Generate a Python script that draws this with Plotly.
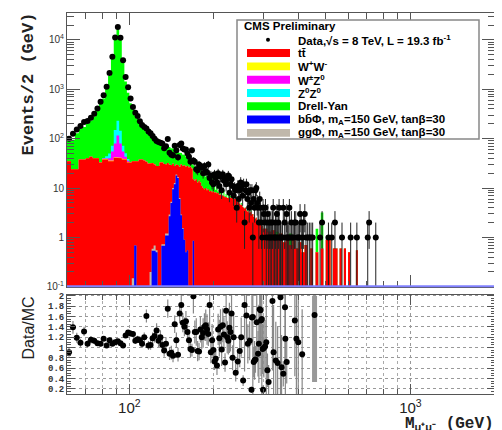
import numpy as np
import plotly.graph_objects as go

# page body adds an 8px margin; the figure is sized so that it fits the 502x430 window
OFF = 8
W, H = 502 - OFF, 430 - OFF
ML, MR, MT, MB = 67 - OFF, 7, 10 - OFF, 36

# ---------------- binning (2 GeV up to 300, 10 GeV above) ----------------
edges = np.concatenate([np.arange(60, 300, 2), np.arange(300, 701, 10)]).astype(float)
centers = 0.5 * (edges[:-1] + edges[1:])
nb = len(edges) - 1

# ---------------- MC stack (events / 2 GeV) ----------------
ttbar = [35, 24, 24, 38, 38, 40, 43, 40, 40, 33,
         38, 38, 35, 35, 41, 41, 40, 38, 38, 33,
         33, 35, 35, 35, 38, 38, 36, 34, 31, 31,
         32, 30, 28, 28, 33, 33, 31, 30, 32, 30,
         29, 31, 28, 30, 29, 27, 30, 28, 29, 27,
         28, 26, 27, 25, 15, 14, 15, 13, 14, 13,
         11, 10, 9.5, 10, 9, 9.5, 8.5, 8.8, 8.2, 8.5,
         8, 8.2, 7.8, 8, 7.2, 7.4, 7, 7.1, 6.8, 6.5,
         6.6, 6.3, 6.5, 6.4, 6.4, 6.2, 6.3, 6, 5.8, 6,
         5.5, 5.2, 5.4, 4.8, 4.5, 4.6, 4.2, 4, 3.8, 4,
         3.5, 3.3, 3.4, 3.1, 3.2, 3.3, 2.9, 3.0, 2.6, 2.8,
         2.4, 2.5, 2.2, 2.0, 2.3, 1.8, 1.9, 1.6, 1.7, 1.5,
         1.5, 1.3, 1.4, 1.0, 1.2, 0.8, 1.0, 0.7, 0.9, 0.6,
         0.8, 0.5, 0.7, 0, 0.6, 0, 0.5, 0, 0.6, 0,
         0.9, 0.9, 0, 0.6, 0.6, 0, 0.6, 0, 0.6, 0,
         0.5, 0, 0, 0, 0.55, 0, 0, 0, 0, 0]

drell_yan = [75, 71, 104, 122, 134, 165, 189, 240, 335, 482,
             609, 1016, 1810, 4148, 10050, 16169, 10055, 3648, 1389, 816,
             487, 355, 257, 217, 172, 134, 114, 104, 94, 84,
             72, 64, 58, 52, 45, 50, 46, 44, 40, 38,
             35, 32, 30, 28, 26, 25, 21, 20, 18, 17,
             15, 14, 13, 12, 14, 13.5, 11, 12, 10, 10,
             12, 8, 11, 7, 10, 5, 9, 4, 8, 3,
             4, 1, 3, 0.5, 2, 0.5, 1.5, 0, 2, 0.3,
             1, 0, 0.8, 0, 0.5, 0.3, 0, 0.6, 0, 0.4,
             0, 0.5, 0, 0.3, 0, 0.4, 0, 0, 0.3, 0,
             0, 0.4, 0, 0, 0, 0.3, 0, 0, 0, 0,
             0, 0, 0, 0.3, 0, 0, 0, 0, 0, 0,
             0, 0, 0, 0.3, 0, 0, 0, 0.5, 0, 0,
             0, 0, 0, 0, 0, 0, 1.0, 0, 2.6, 0,
             0, 0, 0, 0, 0, 0, 0, 0, 0, 0,
             0, 0, 0, 0, 0, 0, 0, 0, 0, 0]

# dibosons, bins 80-100 GeV
diboson_start = 80
ww_win = [0.8, 1.0, 1.1, 1.0, 1.2, 1.3, 1.1, 1.0, 0.9, 0.8]
wz_win = [1, 2, 4, 19, 38, 73, 39, 16, 4, 2]
zz_win = [1, 3, 10, 17, 70, 116, 65, 17, 8, 3]

# signals, bins 100-170 GeV
signal_start = 100
bbphi_win = [0, 0, 0.69, 0, 0, 0, 0, 0, 0, 0,
             0.54, 0.54, 0.5, 0, 0, 0.68, 0.68, 1.1, 1.1, 2.7,
             5.0, 9.5, 12, 18, 16, 6, 2.8, 1.5, 0.9, 0.5,
             0.55, 0, 0, 0, 0.86]
ggphi_win = [0, 0.15, 0, 0, 0, 0, 0, 0, 0, 0.2,
             0.05, 0.15, 0.05, 0, 0, 0.05, 0.05, 0.1, 0.1, 0.2,
             0.3, 0.5, 0.6, 0.8, 0.7, 0.3, 0.1, 0.05, 0, 0,
             0, 0, 0, 0, 0]

# ---------------- data ----------------
data_counts = [100, 126, 154, 180, 217, 227, 265, 318, 408, 560,
               760, 1120, 2130, 4540, 11200, 18300, 11000, 3880, 1770, 1100,
               650, 437, 335, 288, 225, 190, 172, 160, 140, 128,
               113, 100, 90, 86, 83, 80, 64, 70, 98, 52,
               47, 46, 72, 58, 42, 74, 80, 63, 60, 60,
               50, 43, 34, 58, 36, 34, 24, 23, 30, 28,
               26, 20, 28, 22, 21, 30, 16, 18, 13, 12,
               19, 16, 13, 20, 11, 17, 9, 19, 14, 16,
               12, 15, 18, 8, 12, 15, 11, 7, 10, 9,
               4, 11, 6, 9, 13, 10, 7, 12, 2, 9,
               12, 6, 8, 4, 9, 5, 9, 1, 6, 4,
               9, 10, 5, 4, 2, 6, 4, 2, 1, 4]
data_hi_mass = [301, 303, 305, 307, 309, 311, 313, 315, 317, 319,
                321, 323, 325, 327, 329, 331, 333, 335, 337, 339,
                341, 343, 345, 349, 351, 353, 357, 361, 363, 365,
                369, 371, 373, 377, 379, 383, 387, 391, 395, 399,
                403, 405, 409, 413, 417, 421, 425, 431, 437, 443,
                449, 477, 485, 511, 525, 539, 571, 613, 645, 705,
                713, 753]
data_hi_count = [3, 2, 4, 1, 2, 3, 1, 2, 1, 2,
                 1, 2, 4, 1, 1, 2, 1, 3, 1, 2,
                 4, 1, 1, 1, 1, 4, 2, 1, 3, 1,
                 1, 4, 1, 2, 1, 1, 2, 2, 1, 1,
                 1, 3, 2, 1, 2, 3, 1, 1, 1, 1,
                 1, 1, 2, 1, 1, 2, 1, 1, 1, 1,
                 2, 1]

# ---------------- Data/MC ratio as read ----------------
ratio_mass = [61, 63, 65, 67, 69, 71, 73, 75, 77, 79,
              81, 83, 85, 87, 89, 91, 93, 95, 97, 99,
              101, 103, 105, 107, 109, 111, 113, 115, 117, 119,
              121, 123, 125, 127, 129, 131, 133, 135, 137, 139,
              141, 143, 145, 147, 149, 151, 153, 155, 157, 159,
              161, 163, 165, 167, 169, 171, 173, 175, 177, 179,
              181, 183, 185, 187, 189, 191, 193, 195, 197, 199,
              201, 203, 205, 207, 209, 211, 213, 215, 217, 219,
              221, 223, 225, 227, 229, 231, 233, 235, 239, 243,
              247, 250, 254, 257, 261, 264, 268, 272, 273, 275,
              277, 279, 281, 284, 287, 289, 291, 293, 294, 296,
              298, 299, 301, 304, 307, 310, 313, 323, 326, 332,
              337, 345, 348, 353, 358, 359, 363, 388, 393, 399,
              412]
ratio_value = [0.91, 1.39, 1.19, 1.09, 1.31, 1.07, 1.15, 1.13, 1.08, 1.07,
               1.17, 1.04, 1.14, 1.07, 1.10, 1.12, 1.08, 1.04, 1.23, 1.29,
               1.27, 1.26, 1.13, 1.16, 1.14, 1.07, 1.20, 1.61, 1.04, 1.05,
               1.18, 1.22, 1.33, 1.13, 1.20, 1.05, 0.94, 1.07, 1.75, 0.88,
               0.90, 0.84, 1.45, 1.14, 0.86, 1.66, 1.82, 1.48, 1.40, 1.51,
               1.30, 1.14, 0.97, 0.95, 1.99, 1.30, 1.30, 0.93, 0.92, 1.35,
               1.20, 1.28, 1.40, 1.43, 1.35, 1.26, 1.82, 0.91, 1.14, 0.95,
               0.73, 0.78, 0.65, 1.35, 1.18, 1.40, 0.96, 1.43, 1.25, 0.71,
               1.71, 1.20, 1.13, 1.38, 1.30, 1.66, 0.80, 1.20, 0.51, 0.73,
               0.93, 1.20, 0.36, 1.82, 1.62, 1.07, 1.13, 0.18, 1.58, 1.59,
               0.72, 0.75, 0.77, 1.49, 0.88, 1.07, 1.74, 1.72, 1.52, 1.55,
               0.97, 0.18, 0.99, 1.02, 1.10, 0.56, 0.33, 1.90, 0.91, 0.75,
               0.70, 1.97, 0.62, 0.49, 1.78, 1.17, 0.72, 1.52, 1.17, 1.10,
               0.87]
band_mass = [456]
band_value = [1.63]
band_up = [0.37]
band_down = [1.30]

# ---------------- derived arrays ----------------
def window(vals, start):
    full = np.zeros(nb)
    i0 = int(round((start - edges[0]) / 2))
    full[i0:i0 + len(vals)] = vals
    return full

tt = np.array(ttbar, float)
ww = window(ww_win, diboson_start)
wz = window(wz_win, diboson_start)
zz = window(zz_win, diboson_start)
dy = np.array(drell_yan, float)
bb = window(bbphi_win, signal_start)
gg = window(ggphi_win, signal_start)

c1 = tt
c2 = c1 + ww
c3 = c2 + wz
c4 = c3 + zz
c5 = c4 + dy

def steps(vals):
    v = np.where(np.asarray(vals) > 0, vals, 1e-4)
    xs = np.repeat(edges, 2)[1:-1]
    ys = np.repeat(v, 2)
    return xs, ys

fig = go.Figure()

layers = [(c5, '#00ff00'), (c4, '#00ffff'), (c3, '#ff00ff'), (c2, '#ffff00'),
          (c1, '#ff0000'), (bb + gg, '#c0b8ab'), (bb, '#0000ff')]
for vals, col in layers:
    xs, ys = steps(vals)
    fig.add_trace(go.Scatter(x=xs, y=ys, mode='lines', line=dict(width=0, color=col),
                             fill='tozeroy', fillcolor=col, xaxis='x', yaxis='y',
                             hoverinfo='skip', showlegend=False))

dx = np.concatenate([centers[:len(data_counts)], data_hi_mass])
dyv = np.concatenate([data_counts, data_hi_count]).astype(float)
err = np.sqrt(dyv)
errm = np.minimum(err, 0.999 * dyv)
fig.add_trace(go.Scatter(x=dx, y=dyv, mode='markers', xaxis='x', yaxis='y',
                         marker=dict(color='black', size=6),
                         error_y=dict(type='data', array=err, arrayminus=errm, color='#222',
                                      thickness=1, width=0),
                         showlegend=False, hoverinfo='skip'))

# ratio errors from nearest data count
rm = np.array(ratio_mass, float)
rv = np.array(ratio_value, float)
idx = np.array([np.argmin(np.abs(np.log(dx) - np.log(m))) for m in rm])
rerr = rv / np.sqrt(np.maximum(dyv[idx], 1))
fig.add_trace(go.Scatter(x=band_mass, y=band_value, mode='markers', xaxis='x2', yaxis='y2',
                         marker=dict(color='black', size=6),
                         error_y=dict(type='data', array=band_up, arrayminus=band_down,
                                      color='#999', thickness=5, width=0),
                         showlegend=False, hoverinfo='skip'))
fig.add_trace(go.Scatter(x=rm, y=rv, mode='markers', xaxis='x2', yaxis='y2',
                         marker=dict(color='black', size=6),
                         error_y=dict(type='data', array=rerr, color='#888', thickness=1.2, width=0),
                         showlegend=False, hoverinfo='skip'))

# ---------------- axes ----------------
xr = [np.log10(60), np.log10(2000)]
x_minor = [60, 70, 80, 90, 200, 300, 400, 500, 600, 700, 800, 900, 2000]
y_minor = [k * 10.0 ** e for e in range(-1, 5) for k in range(2, 10) if k * 10.0 ** e < 3.5e4]
frame = dict(showline=True, linecolor='#555', linewidth=1, mirror='ticks', ticks='inside',
             tickcolor='#555', zeroline=False)

PH = H - MT - MB          # plot-area height in px
def PY(py):               # reference pixel row -> paper y
    return (H - MB - (py - OFF)) / PH
def PX(px):               # reference pixel column -> paper x
    return (px - OFF - ML) / (W - ML - MR)

top_dom = [PY(286), 1]
bot_dom = [0, PY(294)]

fig.update_layout(
    width=W, height=H, margin=dict(l=ML, r=MR, t=MT, b=MB),
    paper_bgcolor='white', plot_bgcolor='white', showlegend=False,
    xaxis=dict(type='log', range=xr, anchor='y', tickvals=[100, 1000], showticklabels=False,
               ticklen=12, minor=dict(tickvals=x_minor, ticks='inside', ticklen=6, tickcolor='#555'),
               showgrid=False, **frame),
    yaxis=dict(type='log', range=[-1, np.log10(3.5e4)], domain=top_dom, anchor='x',
               tickvals=[0.1, 1, 10, 100, 1000, 10000],
               ticktext=['10<sup>-1</sup>', '1', '10', '10<sup>2</sup>', '10<sup>3</sup>', '10<sup>4</sup>'],
               tickfont=dict(family='Liberation Sans', size=10, color='#333'),
               ticklen=13, minor=dict(tickvals=y_minor, ticks='inside', ticklen=7, tickcolor='#555'),
               showgrid=False, **frame),
    xaxis2=dict(type='log', range=xr, anchor='y2', tickvals=[100, 1000],
                ticktext=['10<sup>2</sup>', '10<sup>3</sup>'],
                tickfont=dict(family='Liberation Sans', size=15, color='#222'),
                ticklen=10, showgrid=True, gridcolor='#999', griddash='dot', gridwidth=1,
                minor=dict(tickvals=x_minor, ticks='inside', ticklen=5, tickcolor='#555',
                           showgrid=True, gridcolor='#aaa', griddash='dot', gridwidth=1),
                **frame),
    yaxis2=dict(range=[0.1, 2.02], domain=bot_dom, anchor='x2',
                tickvals=[0.2, 0.4, 0.6, 0.8, 1, 1.2, 1.4, 1.6, 1.8, 2],
                ticktext=['<b>%s</b>' % t for t in ['0.2', '0.4', '0.6', '0.8', '1', '1.2', '1.4', '1.6', '1.8', '2']],
                tickfont=dict(family='Liberation Mono', size=9, color='#333'),
                ticklen=8, showgrid=True, gridcolor='#999', griddash='dot', gridwidth=1,
                minor=dict(tickvals=list(np.round(np.arange(0.1, 2.03, 0.05), 2)), ticks='inside',
                           ticklen=4, tickcolor='#555'),
                **frame),
)

shapes = [dict(type='line', xref='x domain', yref='y domain', x0=0, x1=1, y0=0.002, y1=0.002,
               line=dict(color='#8080ff', width=2))]
ann = []

# axis titles
ann.append(dict(text='<b>Events/2 (GeV)</b>', xref='paper', yref='paper', x=PX(28), y=PY(82),
                textangle=-90, showarrow=False, xanchor='center', yanchor='middle',
                font=dict(family='Liberation Mono', size=17, color='#222')))
ann.append(dict(text='Data/MC', xref='paper', yref='paper', x=PX(29), y=PY(328),
                textangle=-90, showarrow=False, xanchor='center', yanchor='middle',
                font=dict(family='Liberation Sans', size=16, color='#222')))
ann.append(dict(text='<b>M<sub>μ⁺μ⁻</sub> (GeV)</b>', xref='paper', yref='paper',
                x=PX(496), y=PY(413), showarrow=False, xanchor='right', yanchor='top',
                font=dict(family='Liberation Mono', size=16, color='#222')))

# legend box
shapes.append(dict(type='rect', xref='paper', yref='paper', x0=PX(237), x1=PX(479), y0=PY(17), y1=PY(137),
                   line=dict(color='#888', width=1.5), fillcolor='white', layer='above'))
ann.append(dict(text='<b>CMS Preliminary</b>', xref='paper', yref='paper', x=PX(242), y=PY(23),
                showarrow=False, xanchor='left', yanchor='middle',
                font=dict(family='Liberation Sans', size=11.5, color='black')))
legend_labels = ['Data,√s = 8 TeV, L = 19.3 fb<sup>-1</sup>', 'tt̄', 'W<sup>+</sup>W<sup>-</sup>',
                 'W<sup>±</sup>Z<sup>0</sup>', 'Z<sup>0</sup>Z<sup>0</sup>', 'Drell-Yan',
                 'bb̄Φ, m<sub>A</sub>=150 GeV, tanβ=30', 'ggΦ, m<sub>A</sub>=150 GeV, tanβ=30']
legend_colors = [None, '#ff0000', '#ffff00', '#ff00ff', '#00ffff', '#00ff00', '#0000ff', '#c0b8ab']
for i, (lab, col) in enumerate(zip(legend_labels, legend_colors)):
    yc = 37 + 13.4 * i
    if col is None:
        shapes.append(dict(type='circle', xref='paper', yref='paper', x0=PX(266), x1=PX(270),
                           y0=PY(yc + 2), y1=PY(yc - 2), fillcolor='black', line=dict(width=0),
                           layer='above'))
    else:
        shapes.append(dict(type='rect', xref='paper', yref='paper', x0=PX(247), x1=PX(290),
                           y0=PY(yc + 4), y1=PY(yc - 4), fillcolor=col, line=dict(width=0),
                           layer='above'))
    ann.append(dict(text='<b>%s</b>' % lab, xref='paper', yref='paper', x=PX(296), y=PY(yc),
                    showarrow=False, xanchor='left', yanchor='middle',
                    font=dict(family='Liberation Sans', size=11.5, color='black')))

fig.update_layout(shapes=shapes, annotations=ann)
fig.write_html('out.html')
